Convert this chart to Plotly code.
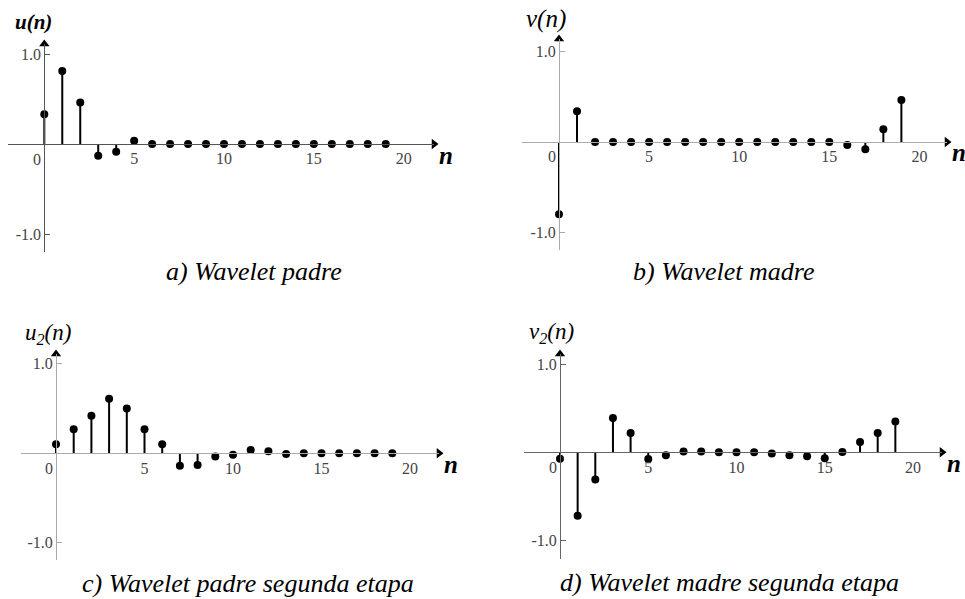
import plotly.graph_objects as go

W, H = 965, 599

n = list(range(20))
u_vals = [0.33, 0.81, 0.46, -0.13, -0.085, 0.037, 0, 0, 0, 0, 0, 0, 0, 0, 0, 0, 0, 0, 0, 0]
v_vals = [-0.80, 0.34, 0, 0, 0, 0, 0, 0, 0, 0, 0, 0, 0, 0, 0, 0, -0.033, -0.08, 0.14, 0.465]
u2_vals = [0.10, 0.27, 0.42, 0.61, 0.50, 0.27, 0.10, -0.14, -0.13, -0.037, -0.015, 0.037, 0.022,
           -0.007, 0, 0, 0, 0, 0, 0]
v2_vals = [-0.072, -0.72, -0.31, 0.39, 0.22, -0.076, -0.034, 0.008, 0.008, 0, 0, 0, -0.015,
           -0.034, -0.046, -0.068, 0.004, 0.118, 0.22, 0.35]

series = [u_vals, v_vals, u2_vals, v2_vals]
ylabels = ["<i><b>u(n)</b></i>", "<i>v(n)</i>", "<i>u<sub>2</sub>(n)</i>", "<i>v<sub>2</sub>(n)</i>"]
captions = ["<i>a) Wavelet padre</i>", "<i>b) Wavelet madre</i>",
            "<i>c) Wavelet padre segunda etapa</i>", "<i>d) Wavelet madre segunda etapa</i>"]
xtick_vals = [5, 10, 15, 20]
xtick_text = ["5", "10", "15", "20"]
ytick_vals = [-1.0, 1.0]
ytick_text = ["-1.0", "1.0"]

# pixel geometry per panel: n0 px, px per n, x-axis left px, x-axis right px,
# y zero px, px per unit, y-axis top px, y-axis bottom px
geo = [
    dict(x0=44.3, dx=17.97, xl=8, xr=434, y0=144, dy=90, yt=44, yb=252),
    dict(x0=559, dx=18.02, xl=522, xr=947, y0=142, dy=90.3, yt=39, yb=250),
    dict(x0=56, dx=17.7, xl=20.7, xr=439, y0=453.3, dy=89.5, yt=354, yb=560),
    dict(x0=560, dx=17.65, xl=524.3, xr=942, y0=452.3, dy=88, yt=354, yb=559),
]
axis_colors = ["#555555", "#aaaaaa", "#aaaaaa", "#666666"]
ylab_pos = [(33, 22), (546, 19), (48, 334), (551, 333)]
ylab_size = [21, 25, 23, 23]
nlab_pos = [(446, 155), (959, 152), (451, 464), (954, 463)]
cap_pos = [(254, 271), (723, 271), (248, 583), (729, 582)]

fig = go.Figure()
serif = "Liberation Serif"

for i, (vals, g) in enumerate(zip(series, geo)):
    k = "" if i == 0 else str(i + 1)
    xref, yref = "x" + k, "y" + k
    xr = [(g["xl"] - g["x0"]) / g["dx"], (g["xr"] - g["x0"]) / g["dx"]]
    yr = [-(g["yb"] - g["y0"]) / g["dy"], (g["y0"] - g["yt"]) / g["dy"]]
    xdom = [g["xl"] / W, g["xr"] / W]
    ydom = [1 - g["yb"] / H, 1 - g["yt"] / H]

    # stems
    sx, sy = [], []
    for xi, yi in zip(n, vals):
        sx += [xi, xi, None]
        sy += [0, yi, None]
    fig.add_trace(go.Scatter(x=sx, y=sy, mode="lines", line=dict(color="black", width=2),
                             xaxis=xref, yaxis=yref, showlegend=False, hoverinfo="skip"))
    fig.add_trace(go.Scatter(x=n, y=vals, mode="markers", marker=dict(color="black", size=8),
                             xaxis=xref, yaxis=yref, showlegend=False, cliponaxis=False))
    # arrowheads
    fig.add_trace(go.Scatter(x=[xr[1], 0], y=[0, yr[1]], mode="markers",
                             marker=dict(color="black", size=9,
                                         symbol=["triangle-right", "triangle-up"]),
                             xaxis=xref, yaxis=yref, showlegend=False, cliponaxis=False,
                             hoverinfo="skip"))

    fig.update_layout(**{
        ("xaxis" + k): dict(range=xr, domain=xdom, anchor="free",
                            position=1 - g["y0"] / H, showgrid=False, zeroline=False,
                            showline=True, linecolor=axis_colors[i], linewidth=1,
                            tickmode="array", tickvals=xtick_vals, ticktext=xtick_text,
                            ticks="", tickfont=dict(family=serif, size=16, color="#444"),
                            fixedrange=True),
        ("yaxis" + k): dict(range=yr, domain=ydom, anchor="free",
                            position=g["x0"] / W, showgrid=False, zeroline=False,
                            showline=True, linecolor=axis_colors[i], linewidth=1,
                            tickmode="array", tickvals=ytick_vals, ticktext=ytick_text,
                            ticks="inside", ticklen=5, tickcolor=axis_colors[i],
                            tickfont=dict(family=serif, size=16, color="#444"),
                            fixedrange=True),
    })
    # "0" label on x-axis, left of the vertical axis
    fig.add_annotation(x=0, y=0, xref=xref, yref=yref, text="0", showarrow=False,
                       xanchor="center", yanchor="middle",
                       xshift=-7, yshift=-15, font=dict(family=serif, size=16, color="#444"))
    fig.add_annotation(x=ylab_pos[i][0] / W, y=1 - ylab_pos[i][1] / H, xref="paper",
                       yref="paper", text=ylabels[i], showarrow=False,
                       xanchor="center", yanchor="middle",
                       font=dict(family=serif, size=ylab_size[i], color="black"))
    fig.add_annotation(x=nlab_pos[i][0] / W, y=1 - nlab_pos[i][1] / H, xref="paper",
                       yref="paper", text="<i><b>n</b></i>", showarrow=False,
                       xanchor="center", yanchor="middle",
                       font=dict(family=serif, size=25, color="black"))
    fig.add_annotation(x=cap_pos[i][0] / W, y=1 - cap_pos[i][1] / H, xref="paper",
                       yref="paper", text=captions[i], showarrow=False,
                       xanchor="center", yanchor="middle",
                       font=dict(family=serif, size=26, color="black"))

fig.update_layout(width=W, height=H, autosize=False, margin=dict(l=0, r=0, t=0, b=0),
                  paper_bgcolor="white", plot_bgcolor="white", showlegend=False,
                  font=dict(family=serif))
fig.write_html("out.html")
